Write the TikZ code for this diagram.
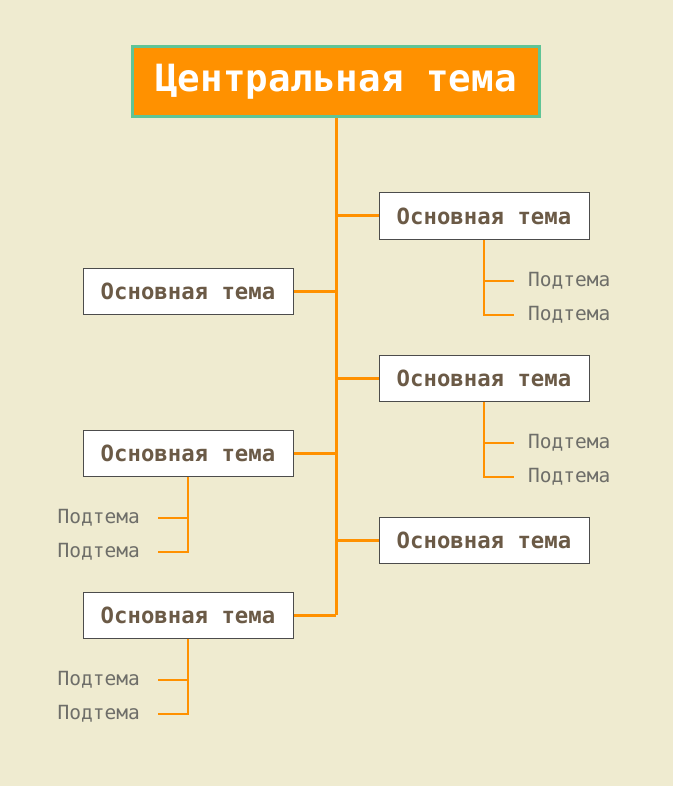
\documentclass[tikz,border=0pt]{standalone}
\usepackage{fontspec}
\setmonofont{DejaVu Sans Mono}
\usepackage{xcolor}
\usetikzlibrary{positioning}

\definecolor{paper}{RGB}{239,235,208}
\definecolor{branch}{RGB}{255,145,0}
\definecolor{rim}{RGB}{95,196,150}
\definecolor{topictext}{RGB}{107,90,70}
\definecolor{subtext}{RGB}{110,110,105}

\tikzset{
    central/.style={draw=rim, line width=3pt, fill=branch, text=white,
        minimum width=407pt, minimum height=70pt, inner sep=0pt,
        font=\ttfamily\bfseries\fontsize{37.5}{40}\selectfont},
    topic/.style={draw=black!70, line width=1pt, fill=white, text=topictext,
        minimum width=210pt, minimum height=46pt, inner sep=0pt,
        font=\ttfamily\bfseries\fontsize{22.3}{26}\selectfont},
    subtopic/.style={text=subtext, inner xsep=14pt, inner ysep=0pt,
        font=\ttfamily\fontsize{19.5}{22}\selectfont},
    trunk/.style={draw=branch, line width=3pt},
    twig/.style={draw=branch, line width=1.8pt}
}

\begin{document}
\begin{tikzpicture}[x=1pt, y=-1pt]
    % Background
    \fill[paper] (0,0) rectangle (673,786);
    \useasboundingbox (0,0) rectangle (673,786);

    % Nodes
    \node[central] (center) at (336,81.5) {Центральная тема};
    \node[topic] (r1) at (484,216) {Основная тема};
    \node[topic] (l1) at (188,291) {Основная тема};
    \node[topic] (r2) at (484,378) {Основная тема};
    \node[topic] (l2) at (188,453) {Основная тема};
    \node[topic] (r3) at (484,540) {Основная тема};
    \node[topic] (l3) at (188,615) {Основная тема};
    \coordinate (trunkend) at (336,615);

    \node[subtopic, anchor=west] (r1a) at (514,281) {Подтема};
    \node[subtopic, anchor=west] (r1b) at (514,315) {Подтема};
    \node[subtopic, anchor=west] (r2a) at (514,443) {Подтема};
    \node[subtopic, anchor=west] (r2b) at (514,477) {Подтема};
    \node[subtopic, anchor=east, inner xsep=18pt] (l2a) at (158,518) {Подтема};
    \node[subtopic, anchor=east, inner xsep=18pt] (l2b) at (158,552) {Подтема};
    \node[subtopic, anchor=east, inner xsep=18pt] (l3a) at (158,680) {Подтема};
    \node[subtopic, anchor=east, inner xsep=18pt] (l3b) at (158,714) {Подтема};

    % Main branches
    \draw[trunk] (center.south) -- (trunkend);
    \foreach \t in {r1, r2, r3} {
        \draw[trunk] (\t.west) -- (\t.west -| center.south);
    }
    \foreach \t in {l1, l2} {
        \draw[trunk] (\t.east) -- (\t.east -| center.south);
    }
    \draw[trunk] (l3.east) -- (trunkend);

    % Sub branches
    \draw[twig] (r1.south) |- (r1b.west);
    \draw[twig] (r1a.west) -- (r1a.west -| r1.south);
    \draw[twig] (r2.south) |- (r2b.west);
    \draw[twig] (r2a.west) -- (r2a.west -| r2.south);
    \draw[twig] (l2.south) |- (l2b.east);
    \draw[twig] (l2a.east) -- (l2a.east -| l2.south);
    \draw[twig] (l3.south) |- (l3b.east);
    \draw[twig] (l3a.east) -- (l3a.east -| l3.south);
\end{tikzpicture}
\end{document}
